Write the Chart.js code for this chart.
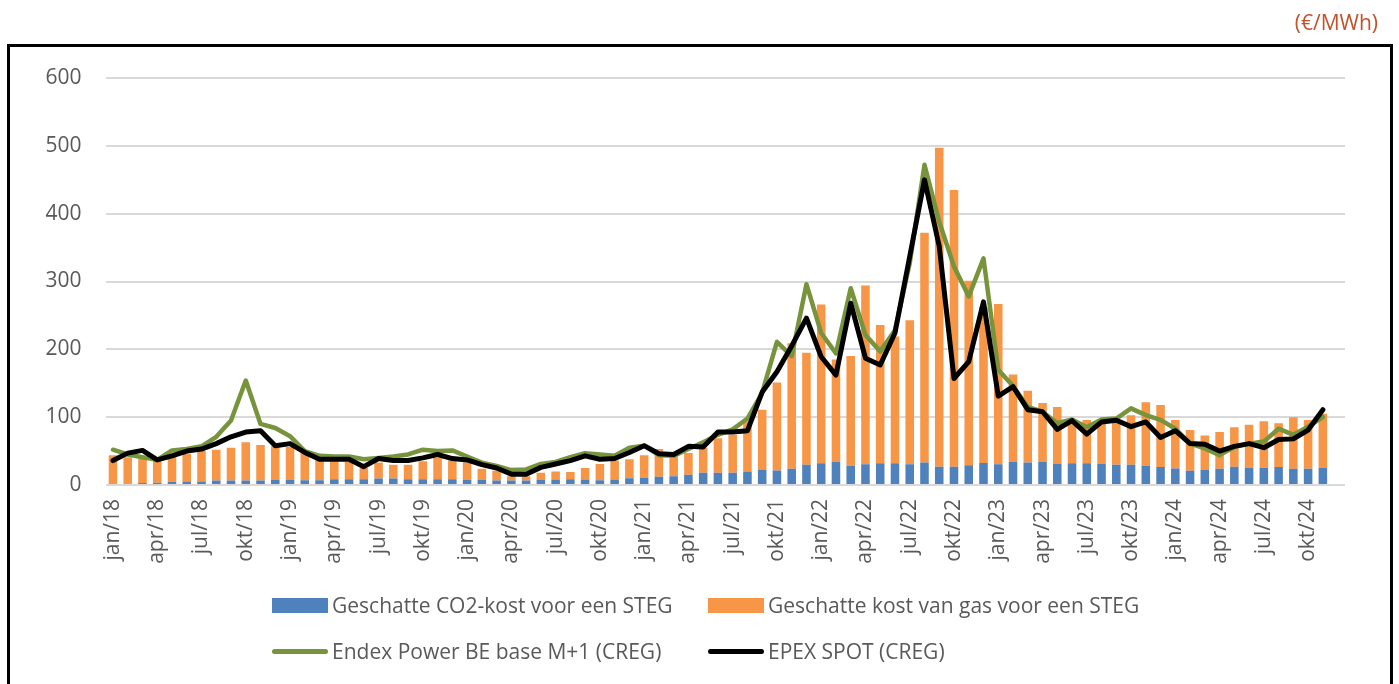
<!DOCTYPE html>
<html lang="nl">
  <head>
    <title>STEG kosten vs prijzen</title>
    <meta charset="utf-8" />
    <script src="https://cdn.jsdelivr.net/npm/chart.js@4.4.9/dist/chart.umd.min.js"></script>
    <style>
      body { margin: 0; padding: 0; width: 1399px; height: 684px; overflow: hidden; background: #fff; font-family: "Open Sans", sans-serif; }
      #frame { position: absolute; left: 7px; top: 44px; width: 1380px; height: 700px; border: 3px solid #000; pointer-events: none; }
      #unit { position: absolute; right: 21px; top: 8px; color: #c5512b; font-size: 21px; }
      #chart { position: absolute; left: 0; top: 0; }
      .item { position: absolute; display: flex; align-items: center; font-size: 21px; color: #595959; white-space: nowrap; }
      .box { width: 56px; height: 15px; margin-right: 4px; }
      .ln { width: 56px; height: 5px; border-radius: 3px; margin-right: 4px; }
    </style>
  </head>

  <body>
    <canvas id="chart" width="1399" height="684"></canvas>
    <div id="frame"></div>
    <div id="unit">(€/MWh)</div>
    <div id="legend"></div>

    <script>
      const months = ["jan", "feb", "mrt", "apr", "mei", "jun", "jul", "aug", "sep", "okt", "nov", "dec"];
      const years = ["18", "19", "20", "21", "22", "23", "24"];
      const labels = [];
      for (const y of years) for (const m of months) labels.push(m + "/" + y);

      // geschatte CO2-kost (€/MWh)
      const co2Cost = [
        1.5, 2, 3, 3.5, 4.5, 5, 5, 6.5, 6.5, 6.5, 6.5, 7.5,
        7.5, 7, 7, 8.5, 8.5, 8.5, 9.5, 9.5, 8.5, 8.5, 8.5, 8.5,
        7.5, 7.5, 6.5, 6.5, 6.5, 7.5, 8, 8.4, 8, 7, 8, 10,
        10.4, 12, 13, 15, 18, 18, 18, 20, 22, 21.5, 24, 30,
        32, 34, 28.5, 30.5, 32, 32, 30.5, 33, 27, 27, 29, 32.5,
        30.5, 34, 33, 34, 31, 32, 32, 31, 30, 30, 28, 26.5,
        24.5, 21, 22, 24, 27, 25.5, 25.5, 26.5, 24, 24, 25.5, null,
      ];
      // geschatte kost van gas (€/MWh)
      const gasCost = [
        42.5, 39, 36, 32.5, 37.5, 41, 45, 45.5, 48.5, 56.5, 52.5, 49.5,
        48.5, 41, 31, 26.5, 25.5, 16.5, 23.5, 20.5, 21.5, 26.5, 31.5, 27.5,
        25.5, 16.5, 14.5, 6.5, 6.5, 10.5, 12, 10.6, 17, 24, 28, 28,
        33.6, 41, 29, 32, 37, 51, 56, 74, 89, 129.5, 185, 165,
        234, 151, 161.5, 263.5, 204, 187, 212.5, 339, 470, 408, 272, 229.5,
        236.5, 129, 106, 87, 84, 63, 64, 65, 66, 73, 94, 91.5,
        71.5, 60, 51, 54, 58, 63.5, 68.5, 64.5, 76, 72, 79.5, null,
      ];
      const endex = [
        52, 45, 41, 37, 51, 53, 57, 71, 95, 154, 90, 84,
        72, 50, 43, 42, 42, 38, 40, 42, 45, 52, 50, 51,
        42, 33, 28, 22, 23, 31, 34, 41, 47, 45, 43, 55,
        58, 44, 43, 53, 63, 74, 82, 98, 136, 211, 190, 296,
        224, 194, 290, 221, 197, 228, 327, 472, 388, 322, 278, 334,
        170, 146, 115, 108, 91, 96.5, 85, 96.5, 98, 113, 103, 96,
        83, 61, 54, 44, 56, 61, 64, 83, 74, 86, 100, null,
      ];
      const epex = [
        36, 47, 51, 37, 43, 50, 53, 61, 71, 78, 80, 58,
        61, 48, 38, 38, 38, 27, 39, 36, 36, 40, 45, 39,
        37, 30, 25, 16, 16, 26, 31, 36, 43, 38, 39, 48,
        58, 46, 45, 57, 56, 78, 78, 80, 137, 167, 205, 246,
        189, 162, 268, 187, 177, 224, 337, 450, 352, 157, 182, 270,
        131, 145, 111, 108, 82, 95, 75, 93, 95.5, 86, 93, 70,
        80, 61, 60, 50, 57, 61, 55, 67, 68, 81, 111, null,
      ];
      const yTicks = [0, 100, 200, 300, 400, 500, 600];

      const BLUE = "#4f81bd", ORANGE = "#f79646", GREEN = "#77933c", BLACK = "#000000";
      const FONT = "'Open Sans', sans-serif";

      const barOpts = { type: "bar", stack: "kost", order: 2, categoryPercentage: 0.58, barPercentage: 1 };
      const lineOpts = { type: "line", pointRadius: 0, tension: 0, borderJoinStyle: "round", borderCapStyle: "round" };

      new Chart(document.getElementById("chart"), {
        data: {
          labels: labels,
          datasets: [
            { ...barOpts, label: "Geschatte CO2-kost voor een STEG", data: co2Cost, backgroundColor: BLUE },
            { ...barOpts, label: "Geschatte kost van gas voor een STEG", data: gasCost, backgroundColor: ORANGE },
            { ...lineOpts, label: "Endex Power BE base M+1 (CREG)", data: endex, borderColor: GREEN, borderWidth: 4.5, stack: "endex", order: 1 },
            { ...lineOpts, label: "EPEX SPOT (CREG)", data: epex, borderColor: BLACK, borderWidth: 5, stack: "epex", order: 0 },
          ],
        },
        options: {
          responsive: false,
          animation: false,
          layout: { padding: { left: 0, right: 54, top: 78, bottom: 0 } },
          plugins: { legend: { display: false }, tooltip: { enabled: false } },
          scales: {
            x: {
              stacked: true,
              grid: { display: false },
              border: { display: false },
              ticks: {
                autoSkip: false,
                minRotation: 90,
                maxRotation: 90,
                padding: 6,
                color: "#595959",
                font: { family: FONT, size: 21 },
                callback: function (val, index) {
                  return index % 3 === 0 ? this.getLabelForValue(val) : "";
                },
              },
              afterFit: (scale) => { scale.height = 199; },
            },
            y: {
              stacked: true,
              min: 0,
              max: 600,
              afterBuildTicks: (scale) => { scale.ticks = yTicks.map((v) => ({ value: v })); },
              grid: { color: "#d9d9d9", lineWidth: 2, drawTicks: false },
              border: { display: false },
              ticks: { padding: 24, color: "#595959", font: { family: FONT, size: 21 } },
              afterFit: (scale) => { scale.width = 105.6; },
            },
          },
        },
      });

      // legend in two aligned columns, like the original
      const legendItems = [
        { text: "Geschatte CO2-kost voor een STEG", color: BLUE, kind: "box", x: 272, y: 605 },
        { text: "Geschatte kost van gas voor een STEG", color: ORANGE, kind: "box", x: 708, y: 605 },
        { text: "Endex Power BE base M+1 (CREG)", color: GREEN, kind: "ln", x: 272, y: 651 },
        { text: "EPEX SPOT (CREG)", color: BLACK, kind: "ln", x: 708, y: 651 },
      ];
      const legend = document.getElementById("legend");
      for (const it of legendItems) {
        const el = document.createElement("div");
        el.className = "item";
        el.style.left = it.x + "px";
        el.style.top = it.y - 15 + "px";
        el.style.height = "30px";
        el.innerHTML = `<span class="${it.kind}" style="background:${it.color}"></span><span>${it.text}</span>`;
        legend.appendChild(el);
      }
    </script>
  </body>
</html>
